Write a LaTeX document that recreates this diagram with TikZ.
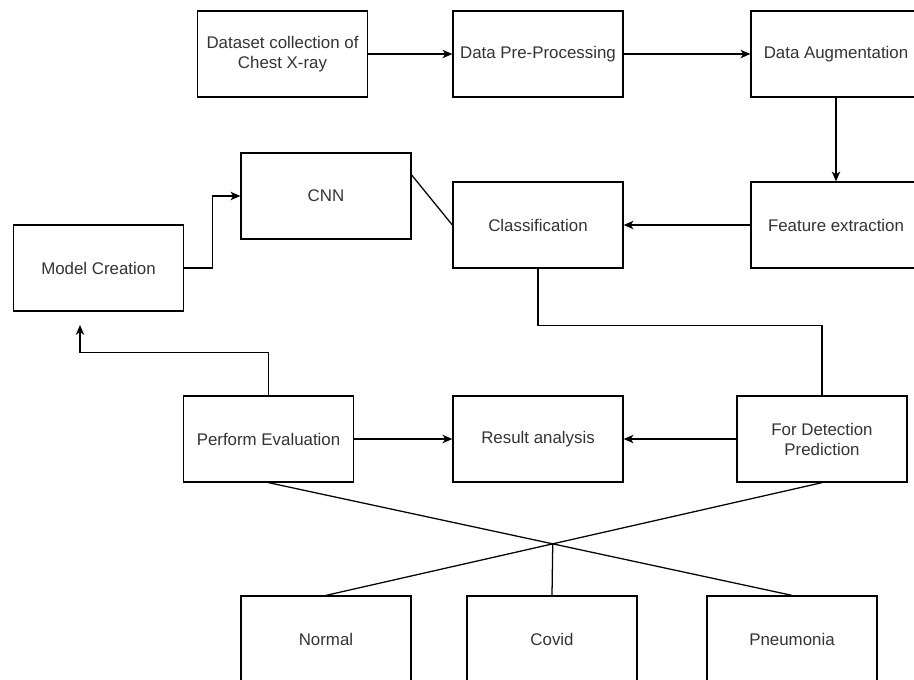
\documentclass[tikz,border=0pt]{standalone}
\usepackage{fontspec}
\setmainfont{Liberation Sans}
\usetikzlibrary{arrows.meta}

\begin{document}
\begin{tikzpicture}[x=0.025cm,y=-0.025cm,line width=0.9pt]

      \useasboundingbox (0,0) rectangle (914,679);

      \begin{scope}[every node/.style={rectangle,draw,minimum width=4.25cm,minimum height=2.15cm,align=center,text=black!80,font=\fontsize{12}{14.2}\selectfont}]
        \node (data) at (282.5,54) {Dataset collection of\\Chest X-ray};
        \node (pre) at (538,54) {Data Pre-Processing};
        \node (aug) at (836,54) {Data Augmentation};
        \node (feat) at (836,225) {Feature extraction};
        \node (cls) at (538,225) {Classification};
        \node (cnn) at (326,196) {CNN};
        \node (model) at (98.5,268) {Model Creation};
        \node (perf) at (268.5,439) {Perform Evaluation};
        \node (res) at (538,439) {Result analysis};
        \node (det) at (822,439) {For Detection\\Prediction};
        \node (normal) at (326,639) {Normal};
        \node (covid) at (552,639) {Covid};
        \node (pneu) at (792,639) {Pneumonia};
      \end{scope}

      \coordinate (mtip) at (80,325);

      \begin{scope}[every edge/.style={draw,-{Stealth[length=7pt,width=6pt,inset=2pt]}}]
        \path (data) edge (pre);
        \path (pre) edge (aug);
        \path (aug) edge (feat);
        \path (feat) edge (cls);
        \path (perf) edge (res);
        \path (det) edge (res);
        \draw[-{Stealth[length=7pt,width=6pt,inset=2pt]}] (model.east) -- ++(28,0) |- (cnn.west);
        \draw[-{Stealth[length=7pt,width=6pt,inset=2pt]}] (perf.north) -- ++(0,-43) -| (mtip);
      \end{scope}

      \begin{scope}[every edge/.style={draw}]
        \path ([yshift=0.525cm]cnn.east) edge (cls.west);
        \draw (cls.south) -- ++(0,57) -| (det.north);
        \path (perf.south) edge (pneu.north);
        \path (det.south) edge (normal.north);
        \coordinate (cross) at (intersection of perf.south--pneu.north and det.south--normal.north);
        \path (covid.north) edge (cross);
      \end{scope}

    \end{tikzpicture}
\end{document}
